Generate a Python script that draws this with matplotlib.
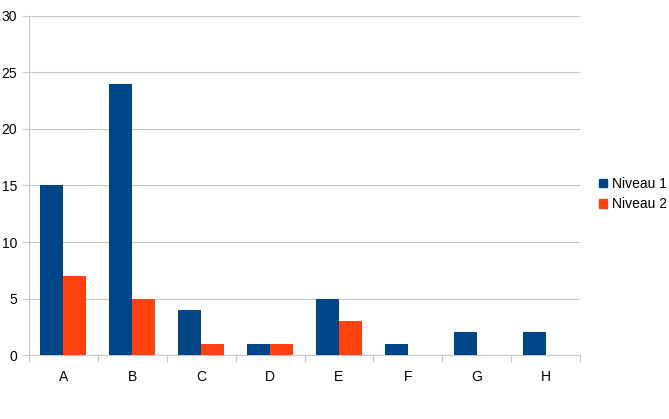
import numpy as np
import matplotlib
matplotlib.use("Agg")
import matplotlib.pyplot as plt
from matplotlib.patches import Patch

plt.rcParams["font.family"] = ["Liberation Sans", "DejaVu Sans"]

categories = ["A", "B", "C", "D", "E", "F", "G", "H"]
niveau1 = [15, 24, 4, 1, 5, 1, 2, 2]
niveau2 = [7, 5, 1, 1, 3, 0, 0, 0]
yticks = [0, 5, 10, 15, 20, 25, 30]

BLUE = "#004586"
ORANGE = "#ff420e"
GRID = "#c8c8c8"

fig = plt.figure(figsize=(6.69, 4.19), dpi=100, facecolor="white")
ax = fig.add_axes([29 / 669, 64 / 419, 551 / 669, 339 / 419])

x = np.arange(len(categories))
w = 1 / 3
ax.bar(x - w / 2, niveau1, width=w, color=BLUE, zorder=3, label="Niveau 1")
ax.bar(x + w / 2, niveau2, width=w, color=ORANGE, zorder=3, label="Niveau 2")

ax.set_xlim(-0.5, len(categories) - 0.5)
ax.set_ylim(0, 30)
ax.set_yticks(yticks)
ax.yaxis.grid(True, color=GRID, linewidth=0.8, zorder=0)

# category labels centred, tick marks at boundaries
ax.set_xticks(x)
ax.set_xticklabels(categories, fontsize=10)
ax.tick_params(axis="x", which="major", length=0, pad=11)
ax.set_xticks(np.arange(-0.5, len(categories)), minor=True)
ax.tick_params(axis="x", which="minor", length=5, color=GRID, width=0.8)
ax.tick_params(axis="y", length=5, color=GRID, width=0.8, labelsize=10)

for s in ["top", "right"]:
    ax.spines[s].set_visible(False)
for s in ["left", "bottom"]:
    ax.spines[s].set_color(GRID)
    ax.spines[s].set_linewidth(0.8)

handles = [Patch(color=BLUE, label="Niveau 1"), Patch(color=ORANGE, label="Niveau 2")]
fig.legend(handles=handles, loc="center left", bbox_to_anchor=(599 / 669, 1 - 194 / 419),
           frameon=False, fontsize=10, handlelength=0.6, handleheight=0.6,
           handletextpad=0.3, labelspacing=0.45, borderaxespad=0, borderpad=0)

fig.savefig("out.png", dpi=100, facecolor="white")
